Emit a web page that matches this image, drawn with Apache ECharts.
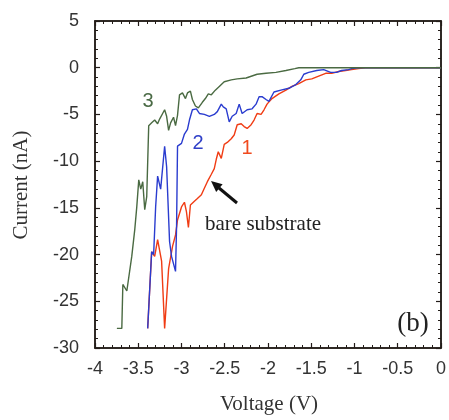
<!DOCTYPE html>
<html>
<head>
<meta charset="utf-8">
<script src="https://cdn.jsdelivr.net/npm/echarts@6/dist/echarts.min.js"></script>
<style>
  html, body { margin: 0; padding: 0; background: #fff; }
  #main { width: 449px; height: 420px; }
</style>
</head>
<body>
<div id="main"></div>
<script>
// curve 3 (green)
const volt3 = [-3.747, -3.690, -3.678, -3.632, -3.575, -3.540, -3.517, -3.494, -3.471, -3.448, -3.425, -3.402,
  -3.379, -3.345, -3.310, -3.276, -3.253, -3.218, -3.195, -3.172, -3.149, -3.126, -3.092, -3.069, -3.046,
  -3.023, -2.989, -2.954, -2.931, -2.897, -2.874, -2.839, -2.805, -2.759, -2.724, -2.690, -2.655, -2.609,
  -2.563, -2.506, -2.425, -2.356, -2.253, -2.126, -2.023, -1.908, -1.793, -1.690, -1.644, 0];
const cur3 = [-27.9, -27.9, -23.2, -23.9, -20.2, -17.3, -14.9, -12.0, -13.0, -12.2, -15.2, -13.8,
  -6.2, -5.9, -5.6, -6.0, -5.5, -4.9, -4.5, -5.2, -6.7, -5.9, -5.3, -6.2, -5.1,
  -2.9, -2.7, -3.3, -2.7, -2.5, -3.4, -4.1, -4.3, -3.7, -3.3, -2.8, -2.9, -2.4,
  -2.0, -1.5, -1.3, -1.2, -1.1, -0.7, -0.6, -0.5, -0.3, -0.1, 0, 0];

// curve 2 (blue)
const volt2 = [-3.391, -3.345, -3.322, -3.299, -3.276, -3.241, -3.195, -3.172, -3.138, -3.115, -3.069, -3.057,
  -3.046, -3.000, -2.966, -2.931, -2.908, -2.874, -2.828, -2.793, -2.736, -2.678, -2.621, -2.586, -2.540,
  -2.517, -2.483, -2.448, -2.414, -2.368, -2.333, -2.299, -2.241, -2.184, -2.138, -2.103, -2.069, -2.023,
  -1.989, -1.931, -1.851, -1.759, -1.678, -1.621, -1.586, -1.529, -1.437, -1.356, -1.276, -1.207, -1.149,
  -1.069, -1.034, -0.954, 0];
const cur2 = [-27.9, -19.7, -20.0, -14.9, -11.6, -13.0, -8.4, -10.6, -18.6, -20.2, -21.8, -17.0,
  -8.4, -8.1, -7.1, -6.6, -5.6, -4.5, -4.4, -4.9, -5.0, -5.2, -5.0, -4.7, -3.9,
  -4.2, -4.4, -5.8, -5.2, -4.9, -3.9, -4.9, -4.5, -4.4, -3.9, -3.1, -3.1, -3.4,
  -3.6, -2.6, -2.4, -2.2, -1.8, -1.3, -0.7, -0.5, -0.3, -0.2, -0.5, -0.5, -0.3,
  -0.2, -0.1, 0, 0];

// curve 1 (red, bare substrate)
const volt1 = [-3.391, -3.345, -3.310, -3.276, -3.230, -3.195, -3.149, -3.103, -3.069, -3.046, -3.000, -2.966,
  -2.943, -2.920, -2.897, -2.851, -2.816, -2.770, -2.736, -2.701, -2.655, -2.621, -2.598, -2.575, -2.540,
  -2.506, -2.471, -2.425, -2.391, -2.356, -2.310, -2.276, -2.241, -2.195, -2.161, -2.126, -2.080, -2.046,
  -2.011, -1.954, -1.874, -1.793, -1.724, -1.644, -1.563, -1.494, -1.414, -1.333, -1.264, -1.184, -1.103,
  -1.034, -0.954, -0.874, 0];
const cur1 = [-27.9, -19.7, -20.2, -18.4, -20.7, -27.9, -21.5, -19.1, -17.9, -16.3, -14.9, -14.4,
  -15.4, -17.1, -14.7, -14.3, -14.0, -13.6, -12.9, -12.2, -11.4, -10.8, -9.8, -9.0, -9.7,
  -8.2, -8.0, -7.6, -7.2, -6.1, -6.0, -6.3, -6.5, -6.1, -5.6, -4.9, -5.0, -4.5,
  -3.9, -3.3, -2.8, -2.4, -2.0, -1.7, -1.3, -1.2, -0.9, -0.6, -0.6, -0.4, -0.3,
  -0.2, -0.1, 0, 0];

const zip = (xs, ys) => xs.map((x, i) => [x, ys[i]]);

const axisColor = "#231c18";
const serif = "'Liberation Serif', 'DejaVu Serif', serif";
const sans = "'Liberation Sans', Arial, sans-serif";

// frame styling, fresh objects per axis; all four sides get inward ticks
function frame(extra) {
  const o = {
    type: "value",
    axisLine: { show: true, onZero: false, lineStyle: { color: axisColor, width: 1.5 } },
    axisTick: { show: true, inside: true, length: 5, lineStyle: { color: axisColor, width: 1.2 } },
    minorTick: { show: true, splitNumber: 5, length: 3, lineStyle: { color: axisColor, width: 1 } }
  };
  o.splitLine = { show: false };
  o.minorSplitLine = { show: false };
  return Object.assign(o, extra);
}

const chart = echarts.init(document.getElementById("main"));

const option = {
  animation: false,
  grid: {
    left: 95,
    right: 6,
    top: 21,
    bottom: 72,
    show: true,
    borderColor: axisColor,
    borderWidth: 1.5
  },
  xAxis: [
    frame({
      min: -4,
      max: 0,
      interval: 0.5,
      axisLabel: { fontFamily: sans, fontSize: 18, color: "#333", margin: 12 }
    }),
    frame({
      position: "top",
      min: -4,
      max: 0,
      interval: 0.5,
      axisLabel: { show: false }
    })
  ],
  yAxis: [
    frame({
      min: -30,
      max: 5,
      interval: 5,
      axisLabel: { fontFamily: sans, fontSize: 18, color: "#333", margin: 16 }
    }),
    frame({
      position: "right",
      min: -30,
      max: 5,
      interval: 5,
      axisLabel: { show: false }
    })
  ],
  series: [
    {
      name: "1",
      type: "line",
      data: zip(volt1, cur1),
      showSymbol: false,
      lineStyle: { color: "#f03c14", width: 1.4 }
    },
    {
      name: "2",
      type: "line",
      data: zip(volt2, cur2),
      showSymbol: false,
      lineStyle: { color: "#2a3ccf", width: 1.4 }
    },
    {
      name: "3",
      type: "line",
      data: zip(volt3, cur3),
      showSymbol: false,
      lineStyle: { color: "#4a6a42", width: 1.4 }
    }
  ],
  graphic: [
    // axis titles
    {
      type: "text", x: 269, y: 404,
      style: { text: "Voltage (V)", fontFamily: serif, fontSize: 21, fill: "#333", align: "center", verticalAlign: "middle" }
    },
    {
      type: "text", x: 21, y: 185, rotation: Math.PI / 2,
      style: { text: "Current (nA)", fontFamily: serif, fontSize: 21, fill: "#333", align: "center", verticalAlign: "middle" }
    },
    // curve labels and notes
    {
      type: "text", x: 148, y: 101,
      style: { text: "3", fontFamily: sans, fontSize: 20, fill: "#4a6a45", align: "center", verticalAlign: "middle" }
    },
    {
      type: "text", x: 198, y: 143,
      style: { text: "2", fontFamily: sans, fontSize: 20, fill: "#3040c8", align: "center", verticalAlign: "middle" }
    },
    {
      type: "text", x: 247, y: 148,
      style: { text: "1", fontFamily: sans, fontSize: 20, fill: "#f04a1e", align: "center", verticalAlign: "middle" }
    },
    {
      type: "text", x: 205, y: 224,
      style: { text: "bare substrate", fontFamily: serif, fontSize: 21, fill: "#222", align: "left", verticalAlign: "middle" }
    },
    {
      type: "text", x: 413, y: 324,
      style: { text: "(b)", fontFamily: serif, fontSize: 27, fill: "#222", align: "center", verticalAlign: "middle" }
    },
    {
      type: "line",
      shape: { x1: 237, y1: 203, x2: 219, y2: 188 },
      style: { stroke: "#111", lineWidth: 3 }
    },
    {
      type: "polygon",
      shape: { points: [[211, 181], [222.6, 184.3], [216.2, 191.9]] },
      style: { fill: "#111" }
    }
  ]
};

chart.setOption(option);
</script>
</body>
</html>
